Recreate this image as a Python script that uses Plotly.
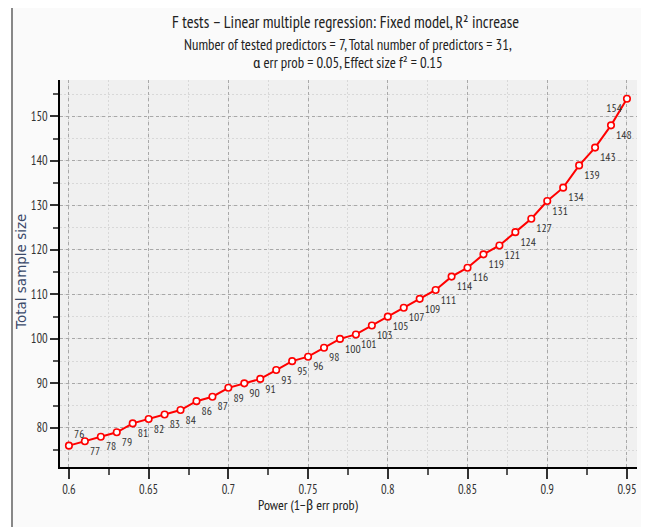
import plotly.graph_objects as go

power = [0.60, 0.61, 0.62, 0.63, 0.64, 0.65, 0.66, 0.67, 0.68, 0.69,
         0.70, 0.71, 0.72, 0.73, 0.74, 0.75, 0.76, 0.77, 0.78, 0.79,
         0.80, 0.81, 0.82, 0.83, 0.84, 0.85, 0.86, 0.87, 0.88, 0.89,
         0.90, 0.91, 0.92, 0.93, 0.94, 0.95]
sample_size = [76, 77, 78, 79, 81, 82, 83, 84, 86, 87,
               89, 90, 91, 93, 95, 96, 98, 100, 101, 103,
               105, 107, 109, 111, 114, 116, 119, 121, 124, 127,
               131, 134, 139, 143, 148, 154]
x_ticks = [0.6, 0.65, 0.7, 0.75, 0.8, 0.85, 0.9, 0.95]
x_tick_labels = ["0.6", "0.65", "0.7", "0.75", "0.8", "0.85", "0.9", "0.95"]
y_ticks = [80, 90, 100, 110, 120, 130, 140, 150]

title = "F tests – Linear multiple regression: Fixed model, R² increase"
subtitle1 = "Number of tested predictors = 7, Total number of predictors = 31,"
subtitle2 = "α err prob = 0.05, Effect size f² = 0.15"

NARROW = "PT Sans Narrow, Archivo Narrow, Roboto Condensed, sans-serif"

positions = ["bottom right"] * len(power)
positions[0] = "top right"
positions[-1] = "bottom left"

fig = go.Figure()
fig.add_trace(go.Scatter(
    x=power, y=sample_size, mode="lines+markers+text",
    text=[str(v) for v in sample_size], textposition=positions,
    textfont=dict(family=NARROW, size=11.5, color="#333333"),
    line=dict(color="#ff0000", width=2),
    marker=dict(symbol="circle", size=6.5, color="white",
                line=dict(color="#ff0000", width=1.6)),
    cliponaxis=False, showlegend=False, hoverinfo="x+y",
))

# page is shown with an 8px body margin; reference pixel coords are shifted by OFF
OFF = 8
W, H = 649 - OFF, 527 - OFF
L, R, T, B = 60 - OFF, 12, 80 - OFF, 60
pw, ph = W - L - R, H - T - B

def px(xr):
    return (xr - OFF - L) / pw

def py(yr):
    return (H - B - (yr - OFF)) / ph

fig.update_layout(
    width=W, height=H,
    margin=dict(l=L, r=R, t=T, b=B, autoexpand=False),
    paper_bgcolor="#fafafa", plot_bgcolor="#f0f0f0",
    xaxis=dict(
        range=[0.5944, 0.9563], tickvals=x_ticks, ticktext=x_tick_labels,
        automargin=False,
        ticks="outside", ticklen=10, tickwidth=1.5, tickcolor="#333333",
        showline=True, linecolor="black", linewidth=1.5,
        showgrid=True, gridcolor="#a8a8a8", griddash="3px,3px", gridwidth=1,
        zeroline=False,
        tickfont=dict(family=NARROW, size=12.5, color="#333333"),
        minor=dict(dtick=0.025, tick0=0.6, ticks="outside", ticklen=6,
                   tickwidth=1.5, tickcolor="#555555",
                   showgrid=True, gridcolor="#d8d8d8", griddash="2px,2px"),
    ),
    yaxis=dict(
        range=[71.2, 158.2], tickvals=y_ticks,
        automargin=False,
        ticks="outside", ticklen=8, tickwidth=1.5, tickcolor="#333333",
        showline=True, linecolor="black", linewidth=1.5,
        showgrid=True, gridcolor="#a8a8a8", griddash="3px,3px", gridwidth=1,
        zeroline=False,
        tickfont=dict(family=NARROW, size=12.5, color="#333333"),
        minor=dict(dtick=5, tick0=75, ticks="outside", ticklen=5,
                   tickwidth=1.5, tickcolor="#555555",
                   showgrid=True, gridcolor="#d8d8d8", griddash="2px,2px"),
    ),
    shapes=[
        dict(type="rect", xref="paper", yref="paper",
             x0=px(-5), x1=px(12), y0=py(600), y1=py(-5),
             fillcolor="white", line=dict(width=0), layer="below"),
        dict(type="rect", xref="paper", yref="paper",
             x0=px(-5), x1=px(700), y0=py(7), y1=py(-5),
             fillcolor="white", line=dict(width=0), layer="below"),
        dict(type="line", xref="paper", yref="paper",
             x0=px(12), x1=px(12), y0=py(7), y1=py(600),
             line=dict(color="#888888", width=2)),
        dict(type="line", xref="paper", yref="paper",
             x0=px(12), x1=px(700), y0=py(7), y1=py(7),
             line=dict(color="#888888", width=2)),
    ],
    annotations=[
        dict(text=title, xref="paper", yref="paper", x=px(345), y=py(22),
             showarrow=False, xanchor="center", yanchor="middle",
             font=dict(family=NARROW, size=16.5, color="#222222")),
        dict(text=subtitle1, xref="paper", yref="paper", x=px(348), y=py(44.5),
             showarrow=False, xanchor="center", yanchor="middle",
             font=dict(family=NARROW, size=14.8, color="#222222")),
        dict(text=subtitle2, xref="paper", yref="paper", x=px(348), y=py(62.5),
             showarrow=False, xanchor="center", yanchor="middle",
             font=dict(family=NARROW, size=14.8, color="#222222")),
        dict(text="Power (1−β err prob)", xref="paper", yref="paper",
             x=px(308), y=py(505), showarrow=False,
             xanchor="center", yanchor="middle",
             font=dict(family=NARROW, size=14, color="#222222")),
        dict(text="Total sample size", xref="paper", yref="paper",
             x=px(21), y=py(272), showarrow=False, textangle=-90,
             xanchor="center", yanchor="middle",
             font=dict(family="DejaVu Sans, Verdana, sans-serif", size=13.5,
                       color="#3a4a6a")),
    ],
)

fig.write_html("out.html")
